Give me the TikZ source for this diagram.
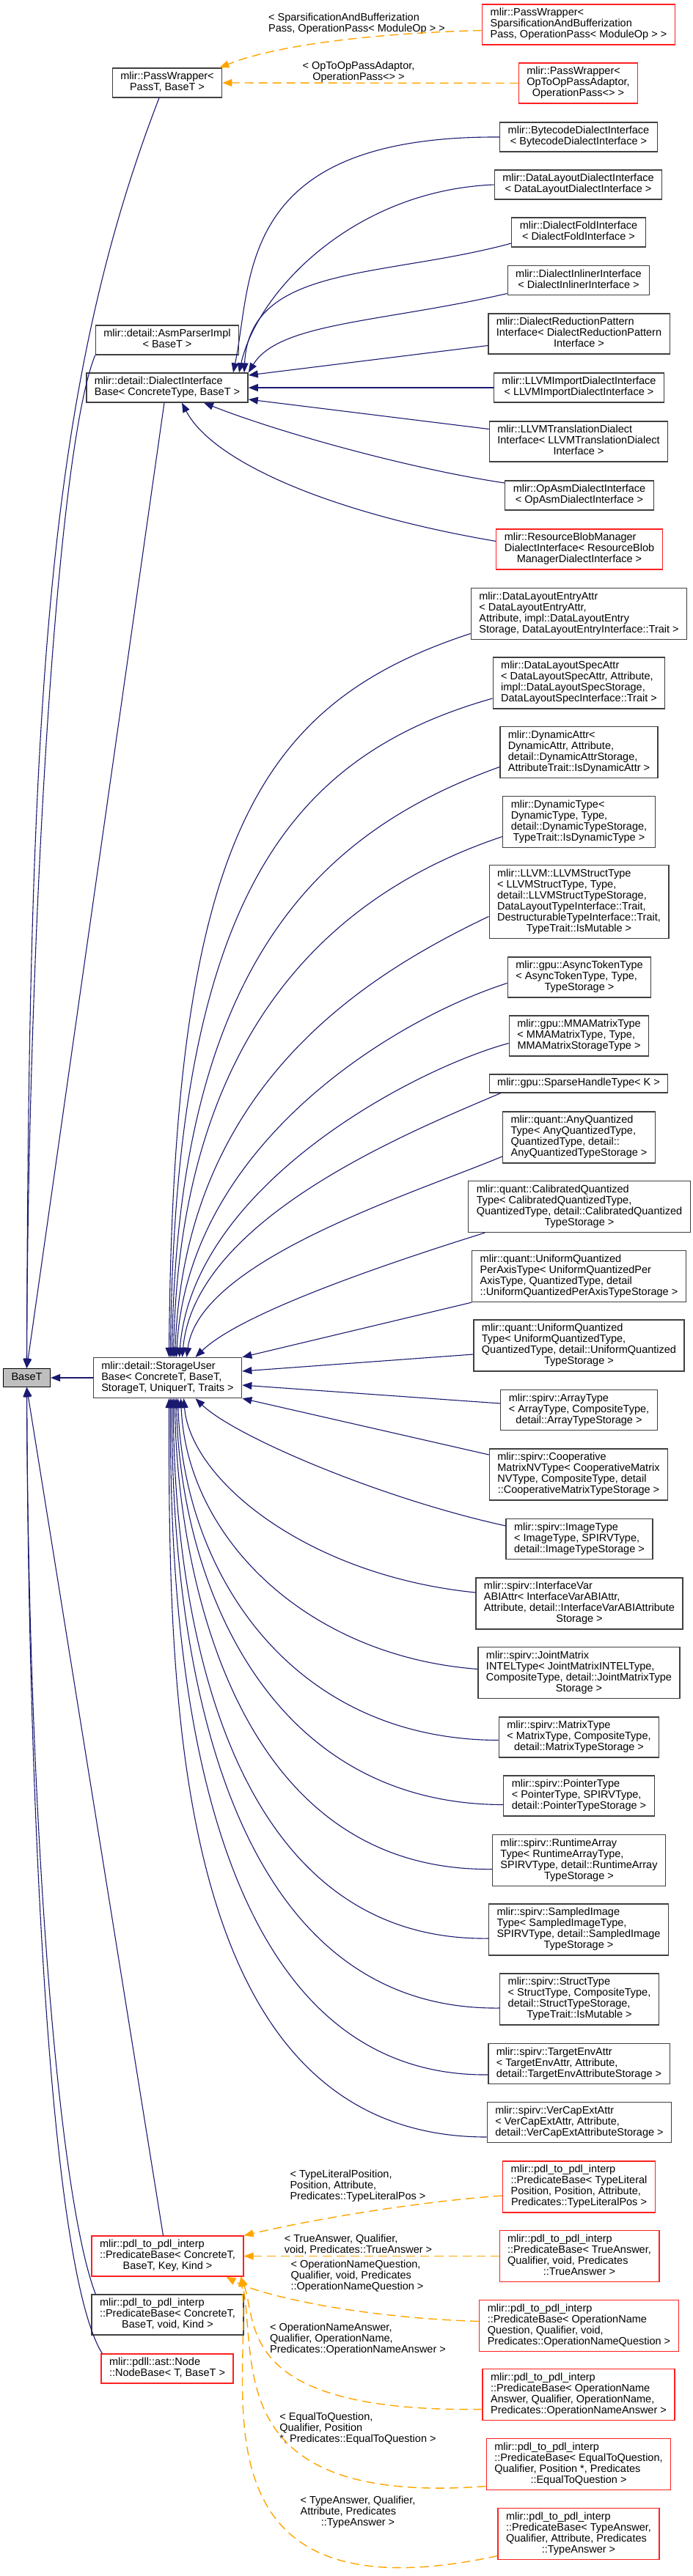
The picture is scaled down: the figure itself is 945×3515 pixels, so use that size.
\documentclass[tikz,border=0pt]{standalone}
\usepackage{fontspec}
\setmainfont{Liberation Sans}
\usetikzlibrary{arrows.meta}

\definecolor{edgeblue}{HTML}{191970}
\definecolor{tmplorange}{HTML}{FFA500}
\definecolor{cutred}{HTML}{FF2020}

% left aligned lines, last line centred
\newcommand{\cl}[2]{\begin{tabular}{@{}l@{}}#1\\\multicolumn{1}{@{}c@{}}{#2}\end{tabular}}

\begin{document}
\begin{tikzpicture}[
  x=1pt,
  y=-1pt,
  font=\fontsize{14.5}{15}\selectfont,
  cls/.style={draw=black!75, line width=1.3pt, fill=white, inner xsep=11pt, inner ysep=5pt},
  cut/.style={cls, draw=cutred},
  cur/.style={cls, draw=black, fill=black!25},
  inh/.style={draw=edgeblue, line width=1.1pt, -{Triangle[length=13pt,width=10pt]}},
  tmpl/.style={draw=tmplorange, line width=1.4pt, dash pattern=on 12pt off 7pt, -{Triangle[length=13pt,width=10pt]}},
  tlabel/.style={inner sep=0pt}
]

% White background
\useasboundingbox (0,0) rectangle (945,3515);
\fill[white] (0,0) rectangle (945,3515);

% Base class
\node[cur] (baset) at (36.5,1880) {\strut BaseT};

% Left column
\node[cls] (pw) at (228,113) {\cl{mlir::PassWrapper<}{PassT, BaseT >}};
\node[cls] (asmparser) at (228,464) {\cl{mlir::detail::AsmParserImpl}{< BaseT >}};
\node[cls] (dib) at (228,529) {\cl{mlir::detail::DialectInterface}{Base< ConcreteType, BaseT >}};
\node[cls] (sub) at (228.5,1880) {\cl{mlir::detail::StorageUser\\Base< ConcreteT, BaseT,}{StorageT, UniquerT, Traits >}};
\node[cut] (pbkey) at (228.5,3078.5) {\cl{mlir::pdl\_to\_pdl\_interp\\::PredicateBase< ConcreteT,}{BaseT, Key, Kind >}};
\node[cls] (pbvoid) at (228.5,3158.5) {\cl{mlir::pdl\_to\_pdl\_interp\\::PredicateBase< ConcreteT,}{BaseT, void, Kind >}};
\node[cut] (nodebase) at (228,3232) {\cl{mlir::pdll::ast::Node}{::NodeBase< T, BaseT >}};

% Pass wrappers
\node[cut] (pwsparse) at (789,33.5) {\cl{mlir::PassWrapper<\\SparsificationAndBufferization}{Pass, OperationPass< ModuleOp > >}};
\node[cut] (pwoptoop) at (788.5,113.5) {\cl{mlir::PassWrapper<\\OpToOpPassAdaptor,}{OperationPass<> >}};

% Dialect interfaces
\node[cls] (bytecode) at (789,187) {\cl{mlir::BytecodeDialectInterface}{< BytecodeDialectInterface >}};
\node[cls] (dlayout) at (788.5,252) {\cl{mlir::DataLayoutDialectInterface}{< DataLayoutDialectInterface >}};
\node[cls] (fold) at (789,317) {\cl{mlir::DialectFoldInterface}{< DialectFoldInterface >}};
\node[cls] (inliner) at (789,382.5) {\cl{mlir::DialectInlinerInterface}{< DialectInlinerInterface >}};
\node[cls] (reduction) at (789.5,455.5) {\cl{mlir::DialectReductionPattern\\Interface< DialectReductionPattern}{Interface >}};
\node[cls] (llvmimport) at (789.5,529) {\cl{mlir::LLVMImportDialectInterface}{< LLVMImportDialectInterface >}};
\node[cls] (llvmtrans) at (789,602.5) {\cl{mlir::LLVMTranslationDialect\\Interface< LLVMTranslationDialect}{Interface >}};
\node[cls] (opasm) at (790,676) {\cl{mlir::OpAsmDialectInterface}{< OpAsmDialectInterface >}};
\node[cut] (resblob) at (790,749.5) {\cl{mlir::ResourceBlobManager\\DialectInterface< ResourceBlob}{ManagerDialectInterface >}};

% Storage users
\node[cls] (dlentry) at (789.5,837.5) {\cl{mlir::DataLayoutEntryAttr\\< DataLayoutEntryAttr,\\Attribute, impl::DataLayoutEntry}{Storage, DataLayoutEntryInterface::Trait >}};
\node[cls] (dlspec) at (789.5,932) {\cl{mlir::DataLayoutSpecAttr\\< DataLayoutSpecAttr, Attribute,\\impl::DataLayoutSpecStorage,}{DataLayoutSpecInterface::Trait >}};
\node[cls] (dynattr) at (789.5,1026.5) {\cl{mlir::DynamicAttr<\\DynamicAttr, Attribute,\\detail::DynamicAttrStorage,}{AttributeTrait::IsDynamicAttr >}};
\node[cls] (dyntype) at (789.5,1121.5) {\cl{mlir::DynamicType<\\DynamicType, Type,\\detail::DynamicTypeStorage,}{TypeTrait::IsDynamicType >}};
\node[cls] (llvmstruct) at (789.5,1230.5) {\cl{mlir::LLVM::LLVMStructType\\< LLVMStructType, Type,\\detail::LLVMStructTypeStorage,\\DataLayoutTypeInterface::Trait,\\DestructurableTypeInterface::Trait,}{TypeTrait::IsMutable >}};
\node[cls] (asynctok) at (790,1333.5) {\cl{mlir::gpu::AsyncTokenType\\< AsyncTokenType, Type,}{TypeStorage >}};
\node[cls] (mmamatrix) at (789.5,1413.5) {\cl{mlir::gpu::MMAMatrixType\\< MMAMatrixType, Type,}{MMAMatrixStorageType >}};
\node[cls] (sparsehandle) at (789,1478.5) {\strut mlir::gpu::SparseHandleType< K >};
\node[cls] (anyquant) at (789.5,1552) {\cl{mlir::quant::AnyQuantized\\Type< AnyQuantizedType,\\QuantizedType, detail::}{AnyQuantizedTypeStorage >}};
\node[cls] (calibq) at (790,1646.5) {\cl{mlir::quant::CalibratedQuantized\\Type< CalibratedQuantizedType,\\QuantizedType, detail::CalibratedQuantized}{TypeStorage >}};
\node[cls] (uniperaxis) at (789.5,1741.5) {\cl{mlir::quant::UniformQuantized\\PerAxisType< UniformQuantizedPer\\AxisType, QuantizedType, detail}{::UniformQuantizedPerAxisTypeStorage >}};
\node[cls] (uniquant) at (789.5,1836) {\cl{mlir::quant::UniformQuantized\\Type< UniformQuantizedType,\\QuantizedType, detail::UniformQuantized}{TypeStorage >}};
\node[cls] (arraytype) at (789.5,1924) {\cl{mlir::spirv::ArrayType\\< ArrayType, CompositeType,}{detail::ArrayTypeStorage >}};
\node[cls] (coopmatrix) at (789,2012) {\cl{mlir::spirv::Cooperative\\MatrixNVType< CooperativeMatrix\\NVType, CompositeType, detail}{::CooperativeMatrixTypeStorage >}};
\node[cls] (imagetype) at (790,2100) {\cl{mlir::spirv::ImageType\\< ImageType, SPIRVType,}{detail::ImageTypeStorage >}};
\node[cls] (ifacevar) at (790,2188) {\cl{mlir::spirv::InterfaceVar\\ABIAttr< InterfaceVarABIAttr,\\Attribute, detail::InterfaceVarABIAttribute}{Storage >}};
\node[cls] (jointmatrix) at (789.5,2282.5) {\cl{mlir::spirv::JointMatrix\\INTELType< JointMatrixINTELType,\\CompositeType, detail::JointMatrixType}{Storage >}};
\node[cls] (matrixtype) at (789.5,2370.5) {\cl{mlir::spirv::MatrixType\\< MatrixType, CompositeType,}{detail::MatrixTypeStorage >}};
\node[cls] (pointertype) at (789.5,2450.5) {\cl{mlir::spirv::PointerType\\< PointerType, SPIRVType,}{detail::PointerTypeStorage >}};
\node[cls] (rtarray) at (789.5,2538.5) {\cl{mlir::spirv::RuntimeArray\\Type< RuntimeArrayType,\\SPIRVType, detail::RuntimeArray}{TypeStorage >}};
\node[cls] (sampled) at (789,2633) {\cl{mlir::spirv::SampledImage\\Type< SampledImageType,\\SPIRVType, detail::SampledImage}{TypeStorage >}};
\node[cls] (structtype) at (790,2728) {\cl{mlir::spirv::StructType\\< StructType, CompositeType,\\detail::StructTypeStorage,}{TypeTrait::IsMutable >}};
\node[cls] (targetenv) at (789.5,2816) {\cl{mlir::spirv::TargetEnvAttr\\< TargetEnvAttr, Attribute,}{detail::TargetEnvAttributeStorage >}};
\node[cls] (vercap) at (790,2896) {\cl{mlir::spirv::VerCapExtAttr\\< VerCapExtAttr, Attribute,}{detail::VerCapExtAttributeStorage >}};

% Predicates
\node[cut] (pbtypelit) at (789.5,2984) {\cl{mlir::pdl\_to\_pdl\_interp\\::PredicateBase< TypeLiteral\\Position, Position, Attribute,}{Predicates::TypeLiteralPos >}};
\node[cut] (pbtrue) at (790,3078.5) {\cl{mlir::pdl\_to\_pdl\_interp\\::PredicateBase< TrueAnswer,\\Qualifier, void, Predicates}{::TrueAnswer >}};
\node[cut] (pbopq) at (789.5,3173.5) {\cl{mlir::pdl\_to\_pdl\_interp\\::PredicateBase< OperationName\\Question, Qualifier, void,}{Predicates::OperationNameQuestion >}};
\node[cut] (pbopa) at (789,3267.5) {\cl{mlir::pdl\_to\_pdl\_interp\\::PredicateBase< OperationName\\Answer, Qualifier, OperationName,}{Predicates::OperationNameAnswer >}};
\node[cut] (pbeq) at (789,3362.5) {\cl{mlir::pdl\_to\_pdl\_interp\\::PredicateBase< EqualToQuestion,\\Qualifier, Position *, Predicates}{::EqualToQuestion >}};
\node[cut] (pbtype) at (789,3457.5) {\cl{mlir::pdl\_to\_pdl\_interp\\::PredicateBase< TypeAnswer,\\Qualifier, Attribute, Predicates}{::TypeAnswer >}};

% Template labels
\node[tlabel] (lsparse) at (486.5,33) {\cl{< SparsificationAndBufferization}{Pass, OperationPass< ModuleOp > >}};
\node[tlabel] (loptoop) at (489,98.5) {\cl{< OpToOpPassAdaptor,}{OperationPass<> >}};
\node[tlabel] (ltypelit) at (488,2983) {\cl{< TypeLiteralPosition,\\Position, Attribute,}{Predicates::TypeLiteralPos >}};
\node[tlabel] (ltrue) at (488.5,3063.5) {\cl{< TrueAnswer, Qualifier,}{void, Predicates::TrueAnswer >}};
\node[tlabel] (lopq) at (487,3106) {\cl{< OperationNameQuestion,\\Qualifier, void, Predicates}{::OperationNameQuestion >}};
\node[tlabel] (lopa) at (488,3192) {\cl{< OperationNameAnswer,\\Qualifier, OperationName,}{Predicates::OperationNameAnswer >}};
\node[tlabel] (leq) at (488,3314) {\cl{< EqualToQuestion,\\Qualifier, Position}{*, Predicates::EqualToQuestion >}};
\node[tlabel] (ltypeans) at (488,3428) {\cl{< TypeAnswer, Qualifier,\\Attribute, Predicates}{::TypeAnswer >}};

% Edges to BaseT
\draw[inh] ([xshift=-11pt]pw.south) .. controls (63,533) and (39,967) .. (baset.north);
\draw[inh] (asmparser.south west) .. controls (75,620) and (38,1300) .. (baset.north);
\draw[inh] ([xshift=-4pt]dib.south) -- (baset.north);
\draw[inh] (sub.west) -- (baset.east);
\draw[inh] ([xshift=-6pt]pbkey.north) -- (baset.south);
\draw[inh] ([xshift=6pt]pbvoid.north west) .. controls (80,3000) and (39,2500) .. (baset.south);
\draw[inh] ([xshift=2pt]nodebase.north west) .. controls (70,3100) and (39,2500) .. (baset.south);

% Edges to DialectInterfaceBase
\draw[inh] (bytecode.west) .. controls (320,185) and (345,380) .. ([xshift=90pt]dib.north);
\draw[inh] (dlayout.west) .. controls (480,260) and (350,400) .. ([xshift=98pt]dib.north);
\draw[inh] ([yshift=-15pt]fold.west) .. controls (520,380) and (340,360) .. ([xshift=105pt]dib.north);
\draw[inh] ([yshift=-18pt]inliner.west) .. controls (520,440) and (380,440) .. (dib.north east);
\draw[inh] ([yshift=-16pt]reduction.west) -- ([yshift=17pt]dib.east);
\draw[inh] (llvmimport.west) -- (dib.east);
\draw[inh] ([yshift=17pt]llvmtrans.west) -- ([yshift=-16pt]dib.east);
\draw[inh] ([yshift=17pt]opasm.west) .. controls (560,640) and (380,590) .. ([xshift=50pt]dib.south);
\draw[inh] ([yshift=11pt]resblob.west) .. controls (450,700) and (290,630) .. ([xshift=20pt]dib.south);

% Edges to StorageUserBase, from above
\draw[inh] ([yshift=-27pt]dlentry.west) .. controls (350,960) and (236,1150) .. ([xshift=2pt]sub.north);
\draw[inh] ([yshift=-21pt]dlspec.west) .. controls (400,1030) and (238,1220) .. ([xshift=4pt]sub.north);
\draw[inh] ([yshift=-20pt]dynattr.west) .. controls (450,1130) and (242,1300) .. ([xshift=6pt]sub.north);
\draw[inh] ([yshift=-20pt]dyntype.west) .. controls (480,1210) and (246,1380) .. ([xshift=8pt]sub.north);
\draw[inh] ([yshift=-20pt]llvmstruct.west) .. controls (500,1330) and (252,1480) .. ([xshift=10pt]sub.north);
\draw[inh] ([yshift=-8pt]asynctok.west) .. controls (540,1390) and (256,1560) .. ([xshift=12pt]sub.north);
\draw[inh] ([yshift=-10pt]mmamatrix.west) .. controls (560,1460) and (262,1620) .. ([xshift=16pt]sub.north);
\draw[inh] ([xshift=16pt]sparsehandle.south west) .. controls (570,1540) and (266,1660) .. ([xshift=20pt]sub.north);
\draw[inh] ([yshift=-26pt]anyquant.west) .. controls (560,1630) and (272,1720) .. ([xshift=26pt]sub.north);
\draw[inh] ([xshift=23pt]calibq.south west) .. controls (540,1720) and (330,1790) .. ([xshift=38pt]sub.north);

% from the side
\draw[inh] (uniperaxis.south west) -- (sub.north east);
\draw[inh] ([yshift=-12pt]uniquant.west) -- ([yshift=9pt]sub.east);
\draw[inh] ([yshift=9pt]arraytype.west) -- ([yshift=-10pt]sub.east);
\draw[inh] ([yshift=27pt]coopmatrix.west) -- (sub.south east);

% from below
\draw[inh] ([yshift=18pt]imagetype.west) .. controls (520,2045) and (320,1960) .. ([xshift=38pt]sub.south);
\draw[inh] ([yshift=15pt]ifacevar.west) .. controls (420,2150) and (260,2020) .. ([xshift=22pt]sub.south);
\draw[inh] ([yshift=5pt]jointmatrix.west) .. controls (420,2260) and (255,2100) .. ([xshift=18pt]sub.south);
\draw[inh] ([yshift=-4pt]matrixtype.west) .. controls (400,2374) and (250,2150) .. ([xshift=14pt]sub.south);
\draw[inh] ([yshift=-12pt]pointertype.west) .. controls (360,2462) and (245,2150) .. ([xshift=12pt]sub.south);
\draw[inh] ([yshift=-12pt]rtarray.west) .. controls (300,2555) and (240,2100) .. ([xshift=10pt]sub.south);
\draw[inh] ([yshift=-12pt]sampled.west) .. controls (270,2650) and (236,2100) .. ([xshift=8pt]sub.south);
\draw[inh] ([yshift=-12pt]structtype.west) .. controls (250,2745) and (234,2100) .. ([xshift=6pt]sub.south);
\draw[inh] ([yshift=-15pt]targetenv.west) .. controls (240,2835) and (232,2150) .. ([xshift=4pt]sub.south);
\draw[inh] ([yshift=-20pt]vercap.west) .. controls (232,2916) and (230,2311) .. ([xshift=2pt]sub.south);

% Template instances
\draw[tmpl] ([yshift=-8pt]pwsparse.west) .. controls (520,45) and (380,60) .. ([xshift=-4pt]pw.north east);
\draw[tmpl] (pwoptoop.west) -- (pw.east);
\draw[tmpl] ([yshift=-12pt]pbtypelit.west) .. controls (560,3005) and (420,3030) .. (pbkey.north east);
\draw[tmpl] (pbtrue.west) -- (pbkey.east);
\draw[tmpl] ([yshift=6pt]pbopq.west) .. controls (480,3162) and (350,3130) .. ([xshift=80pt]pbkey.south);
\draw[tmpl] ([yshift=-20pt]pbopa.west) .. controls (320,3292) and (352,3170) .. ([xshift=100pt]pbkey.south);
\draw[tmpl] ([yshift=-30pt]pbeq.west) .. controls (300,3420) and (352,3220) .. ([xshift=100pt]pbkey.south);
\draw[tmpl] ([yshift=-30pt]pbtype.west) .. controls (250,3580) and (345,3250) .. ([xshift=100pt]pbkey.south);

\end{tikzpicture}
\end{document}
